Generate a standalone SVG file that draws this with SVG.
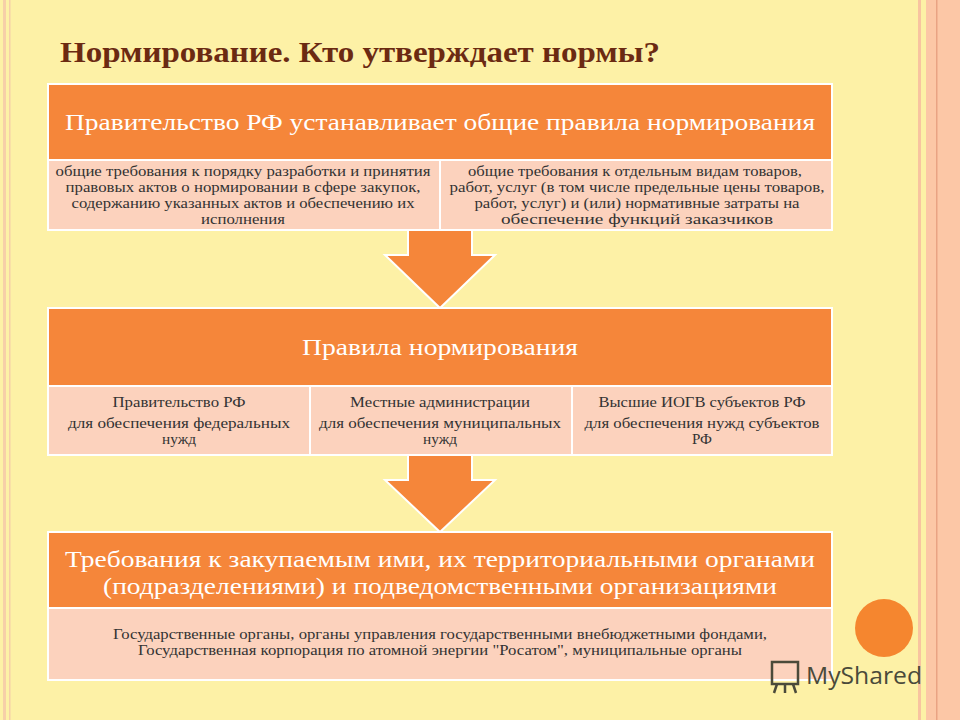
<svg xmlns="http://www.w3.org/2000/svg" width="960" height="720" viewBox="0 0 960 720">
<style>
.hd{fill:#f5863a;stroke:#fff;stroke-width:2}
.sb{fill:#fcd2bd;stroke:#fff;stroke-width:2}
.ht{font-family:"Liberation Serif",serif;font-size:23px;fill:#fff;text-anchor:middle}
.st{font-family:"Liberation Serif",serif;font-size:14px;fill:#333;text-anchor:middle}
.ar{fill:#f5863a;stroke:#fff;stroke-width:2}
</style>
<rect width="960" height="720" fill="#fdf1a6"/>
<rect x="3" y="0" width="3" height="720" fill="#f6cfa8"/>
<rect x="9" y="0" width="1.5" height="720" fill="#f6cfa8"/>
<rect x="918" y="0" width="3" height="720" fill="#f8c4a0"/>
<rect x="926" y="0" width="34" height="720" fill="#fcc7a6"/>
<rect x="936" y="0" width="1.5" height="720" fill="#e9a383"/>
<text x="60" y="62" font-family="Liberation Serif,serif" font-size="29" font-weight="bold" fill="#6b2a12" textLength="600" lengthAdjust="spacingAndGlyphs">Нормирование. Кто утверждает нормы?</text>
<g id="connectors">
<path class="ar" d="M408,230 H472 V255 H495 L440,308 L385,255 H408 Z"/>
<path class="ar" d="M408,455 H472 V480 H495 L440,532 L385,480 H408 Z"/>
</g>
<g id="box1">
<rect class="hd" x="48" y="84" width="784" height="76"/>
<text class="ht" x="440" y="130" textLength="750" lengthAdjust="spacingAndGlyphs">Правительство РФ устанавливает общие правила нормирования</text>
<rect class="sb" x="48" y="160" width="392" height="70"/>
<rect class="sb" x="440" y="160" width="392" height="70"/>
<text class="st" x="243" y="176" textLength="375" lengthAdjust="spacingAndGlyphs">общие требования к порядку разработки и принятия</text>
<text class="st" x="243" y="192" textLength="355" lengthAdjust="spacingAndGlyphs">правовых актов о нормировании в сфере закупок,</text>
<text class="st" x="243" y="208" textLength="343" lengthAdjust="spacingAndGlyphs">содержанию указанных актов и обеспечению их</text>
<text class="st" x="243" y="224" textLength="84" lengthAdjust="spacingAndGlyphs">исполнения</text>
<text class="st" x="635" y="176" textLength="334" lengthAdjust="spacingAndGlyphs">общие требования к отдельным видам товаров,</text>
<text class="st" x="637" y="192" textLength="375" lengthAdjust="spacingAndGlyphs">работ, услуг (в том числе предельные цены товаров,</text>
<text class="st" x="637" y="208" textLength="325" lengthAdjust="spacingAndGlyphs">работ, услуг) и (или) нормативные затраты на</text>
<text class="st" x="637" y="224" textLength="272" lengthAdjust="spacingAndGlyphs">обеспечение функций заказчиков</text>
</g>
<g id="box2">
<rect class="hd" x="48" y="308" width="784" height="78"/>
<text class="ht" x="440" y="355" textLength="276" lengthAdjust="spacingAndGlyphs">Правила нормирования</text>
<rect class="sb" x="48" y="386" width="262" height="69"/>
<rect class="sb" x="310" y="386" width="262" height="69"/>
<rect class="sb" x="572" y="386" width="260" height="69"/>
<text class="st" x="179" y="407" textLength="133" lengthAdjust="spacingAndGlyphs">Правительство РФ</text>
<text class="st" x="179" y="428" textLength="222" lengthAdjust="spacingAndGlyphs">для обеспечения федеральных</text>
<text class="st" x="179" y="444" textLength="34" lengthAdjust="spacingAndGlyphs">нужд</text>
<text class="st" x="440" y="407" textLength="180" lengthAdjust="spacingAndGlyphs">Местные администрации</text>
<text class="st" x="440" y="428" textLength="242" lengthAdjust="spacingAndGlyphs">для обеспечения муниципальных</text>
<text class="st" x="440" y="444" textLength="34" lengthAdjust="spacingAndGlyphs">нужд</text>
<text class="st" x="702" y="407" textLength="207" lengthAdjust="spacingAndGlyphs">Высшие ИОГВ субъектов РФ</text>
<text class="st" x="702" y="428" textLength="235" lengthAdjust="spacingAndGlyphs">для обеспечения нужд субъектов</text>
<text class="st" x="702" y="444" textLength="20" lengthAdjust="spacingAndGlyphs">РФ</text>
</g>
<g id="box3">
<rect class="hd" x="48" y="532" width="784" height="76"/>
<text class="ht" x="440" y="567" textLength="750" lengthAdjust="spacingAndGlyphs">Требования к закупаемым ими, их территориальными органами</text>
<text class="ht" x="440" y="594" textLength="674" lengthAdjust="spacingAndGlyphs">(подразделениями) и подведомственными организациями</text>
<rect class="sb" x="48" y="608" width="784" height="72"/>
<text class="st" x="440" y="639" textLength="654" lengthAdjust="spacingAndGlyphs">Государственные органы, органы управления государственными внебюджетными фондами,</text>
<text class="st" x="440" y="655" textLength="604" lengthAdjust="spacingAndGlyphs">Государственная корпорация по атомной энергии "Росатом", муниципальные органы</text>
</g>
<circle cx="884" cy="628" r="29" fill="#f5862f"/>
<g fill="none" stroke="#4a4a3a" stroke-width="2.5">
<rect x="772" y="662" width="26" height="22"/>
<path d="M777,684 L774,693 M785,684 V693 M793,684 L796,693"/>
</g>
<text x="806" y="684" font-family="Open Sans,sans-serif" font-size="24" fill="#4a4a3a" textLength="116" lengthAdjust="spacingAndGlyphs">MyShared</text>
</svg>
